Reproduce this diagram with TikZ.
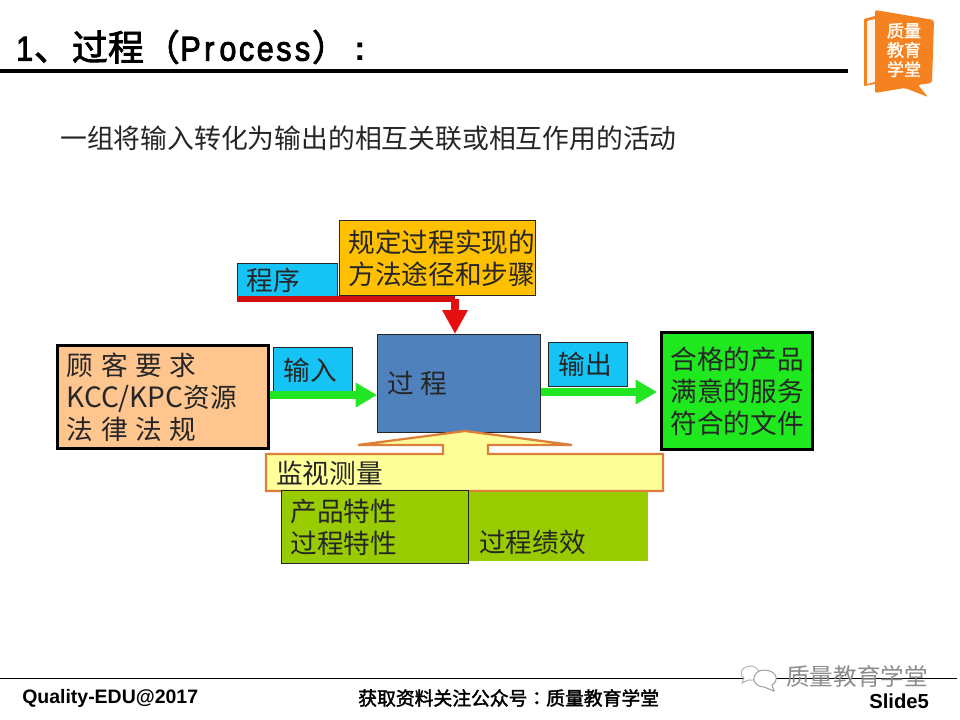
\documentclass[tikz,border=0pt]{standalone}
\usepackage{fontspec}
\setmainfont{Noto Sans CJK SC}
\newfontfamily\cjkbold[FakeBold=2]{Noto Sans CJK SC}
\newfontfamily\heilat[FakeBold=2.5,FakeStretch=0.88]{Liberation Sans}
\newfontfamily\arialb{Liberation Sans Bold}
\newfontfamily\tcbold[FakeBold=2]{Noto Sans CJK TC}
\usetikzlibrary{arrows.meta,calc}
\definecolor{cyanbox}{HTML}{15C3F5}
\definecolor{goldbox}{HTML}{FFC000}
\definecolor{procblue}{HTML}{4F81BD}
\definecolor{peachbox}{HTML}{FFC58F}
\definecolor{limebox}{HTML}{1FE81F}
\definecolor{olivebox}{HTML}{99CC00}
\definecolor{creambox}{HTML}{FFFF99}
\definecolor{orangeln}{HTML}{DD7F3A}
\definecolor{arrowgreen}{HTML}{22E622}
\definecolor{arrowred}{HTML}{E60F0F}
\definecolor{logoorange}{HTML}{F58220}
\newcommand{\sz}{\fontsize{20}{24}\selectfont}
\newcommand{\gp}{\hspace{5.8pt}}
\newcommand{\ttlc}{\cjkbold\fontsize{27}{30}\selectfont}
\newcommand{\ttll}{\heilat\fontsize{26}{30}\selectfont}
\newcommand{\lt}[1]{\makebox[14pt][c]{#1}}
\tikzset{
  x=0.75pt,y=-0.75pt,
  boxbase/.style={anchor=north west,inner ysep=0pt,align=left,font=\sz,text=black!85},
  thinbox/.style={boxbase,draw=black!85,line width=0.8pt},
  heavybox/.style={boxbase,draw=black,line width=2.4pt},
  plainlabel/.style={anchor=west,inner sep=0pt,font=\sz,text=black!85},
  greenarrow/.style={draw=arrowgreen,line width=6pt,-{Triangle[length=16pt,width=17.5pt]}},
}
% #1 name, #2 x, #3 y, #4 w, #5 h (all px), #6 style, #7 pad, #8 text
\newcommand{\bx}[8]{\node[#6,inner xsep=#7*0.75pt,text width=(#4-2*#7)*0.75pt,minimum height=#5*0.75pt] (#1) at (#2,#3) {#8};}
\begin{document}
\begin{tikzpicture}
\useasboundingbox[fill=white] (0,0) rectangle (960,720);
% title
\node[anchor=west,inner sep=0pt,font=\ttlc] (title) at (15,47)
  {{\ttll\lt{1}}\ttlc 、\hspace{1.5pt}过程（\hspace{1pt}{\ttll\lt{P}\lt{r}\lt{o}\lt{c}\lt{e}\lt{s}\lt{s}}\ttlc ）\hspace{5pt}{\arialb\fontsize{26}{30}\selectfont :}};
\coordinate (hl) at (0,71); \coordinate (hr) at (848,71);
\draw[line width=3pt] (hl) -- (hr);
% logo
\fill[logoorange] (864,19) -- (875,16) -- (875,84) -- (864,86) -- cycle;
\fill[white!92!orange] (867,21) -- (875,19) -- (875,82) -- (867,84) -- cycle;
\fill[logoorange,rounded corners=1.5pt] (875,10) -- (934,20) -- (932,83) -- (918,85) -- (928,97) -- (905,88) -- (875,93) -- cycle;
\node[inner sep=0pt,align=center,text=white!95!orange,font=\cjkbold\fontsize{12.8}{14.5}\selectfont] (logotext) at (904,50) {质量\\教育\\学堂};
% subtitle
\node[anchor=west,inner sep=0pt,font=\fontsize{20.1}{24}\selectfont,text=black!85] (sub) at (60,138) {一组将输入转化为输出的相互关联或相互作用的活动};
% top group
\bx{gold}{339}{220}{196}{75}{thinbox,fill=goldbox}{9}{规定过程实现的\\方法途径和步骤}
\bx{prog}{237}{263}{100}{34}{thinbox,fill=cyanbox}{9}{程序}
\coordinate (redl) at (237,299);
\coordinate (redm) at (455,299);
\draw[arrowred!90!black,line width=5pt] (redl) -- (redm);
% process
\bx{proc}{377}{334}{163}{98}{thinbox,fill=procblue}{10}{过\hspace{5pt}程}
\draw[arrowred,line width=6pt,-{Triangle[length=18pt,width=18pt]}] (redm) -- (proc.north -| redm);
% left
\bx{cust}{56}{344}{211}{103}{heavybox,fill=peachbox}{9}{顾\gp 客\gp 要\gp 求\\{\fontsize{21}{24}\selectfont KCC/KPC}资源\\法\gp 律\gp 法\gp 规}
\bx{inp}{273}{347}{79}{45}{thinbox,fill=cyanbox}{10}{输入}
\coordinate (ia) at (cust.east |- 0,395);
\draw[greenarrow] (ia) -- (proc.west |- ia);
% right
\bx{outp}{548}{342}{79}{44}{thinbox,fill=cyanbox}{10}{输出}
\bx{goods}{660}{331}{151}{117}{heavybox,fill=limebox}{9}{合格的产品\\满意的服务\\符合的文件}
\coordinate (oa) at (proc.east |- 0,392);
\coordinate (ob) at ($(goods.west |- oa)+(-3,0)$);
\draw[greenarrow] (oa) -- (ob);
% monitoring
\draw[draw=orangeln,line width=1.7pt,fill=creambox,line join=miter]
  (266,454) -- (443,454) -- (443,445) -- (358,445) -- (465,431) -- (572,445) -- (488,445) -- (488,454) -- (663,454) -- (663,491) -- (266,491) -- cycle;
\node[plainlabel] (mon) at (276,473) {监视测量};
\bx{perf}{468}{492}{180}{69}{boxbase,fill=olivebox}{11}{\phantom{过}\\过程绩效}
\bx{char}{281}{490}{187}{73}{thinbox,fill=olivebox}{9}{产品特性\\过程特性}
% footer
\coordinate (fl) at (0,678); \coordinate (fr) at (957,678);
\draw[line width=0.7pt] (fl) -- (fr);
\node[anchor=west,inner sep=0pt,font=\arialb\fontsize{14.6}{16}\selectfont] (f1) at (22,698) {Quality-EDU@2017};
\node[anchor=west,inner sep=0pt,font=\cjkbold\fontsize{14.1}{16}\selectfont] (f2) at (358,698) {获取资料关注公众号{\tcbold ：}质量教育学堂};
\node[anchor=west,inner sep=0pt,font=\arialb\fontsize{15.2}{16}\selectfont] (f3) at (869,701) {Slide5};
% watermark
\draw[black!30,line width=0.7pt,fill=white] (752,666) .. controls (741,666) and (738,674) .. (744,678) -- (742,683) -- (748,680) .. controls (760,682) and (764,670) .. (752,666);
\draw[black!40,line width=0.7pt,fill=white] (764,670) .. controls (752,670) and (749,686) .. (764,687) -- (774,691) -- (772,685) .. controls (780,680) and (776,670) .. (764,670);
\node[inner sep=0pt,anchor=west,font=\fontsize{17.7}{20}\selectfont,text=black!45] (wm) at (786,676) {质量教育学堂};
\end{tikzpicture}
\end{document}
